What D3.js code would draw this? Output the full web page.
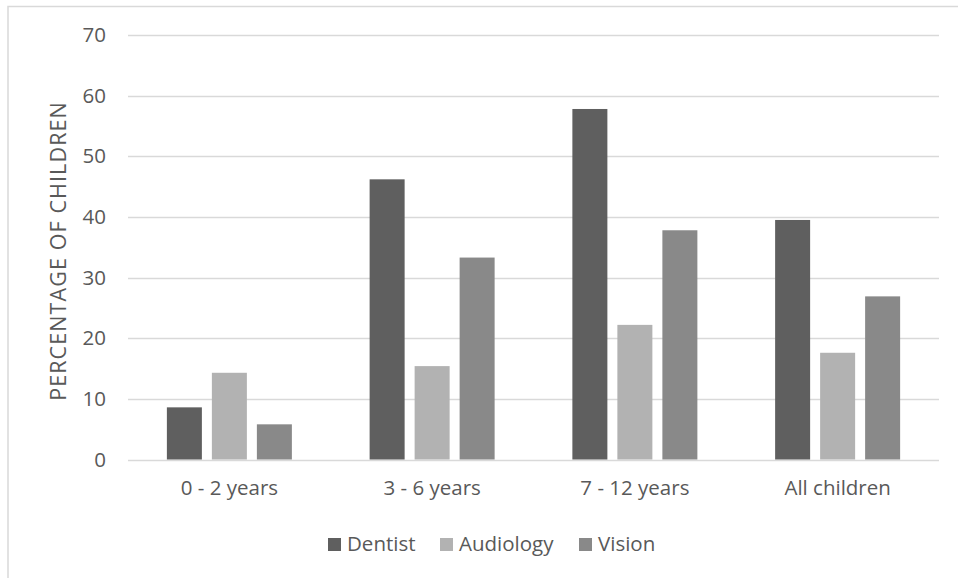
<!DOCTYPE html>
<html>
<head>
<meta charset="utf-8">
<script src="https://cdn.jsdelivr.net/npm/d3@7"></script>
<style>
  html, body { margin: 0; padding: 0; background: #fff; }
  svg { display: block; font-family: "Open Sans", "Liberation Sans", sans-serif; }
</style>
</head>
<body>
<svg id="chart" width="958" height="578"></svg>
<script>
// Share of children who used each service, by age group (%)
const categories = ["0 - 2 years", "3 - 6 years", "7 - 12 years", "All children"];
const seriesNames = ["Dentist", "Audiology", "Vision"];
const dentist = [8.6, 46.2, 57.8, 39.5];
const audiology = [14.3, 15.4, 22.2, 17.6];
const vision = [5.8, 33.3, 37.8, 26.9];
const yTicks = [0, 10, 20, 30, 40, 50, 60, 70];
const colors = ["#5f5f5f", "#b2b2b2", "#898989"];

const seriesValues = [dentist, audiology, vision];
const rows = categories.map((c, i) => ({
  category: c,
  values: seriesNames.map((s, j) => ({ series: s, value: seriesValues[j][i] }))
}));

const svg = d3.select("#chart");
const textColor = "#595959";
const gridColor = "#d9d9d9";
const fontSize = "20.5px";

// outer chart frame
svg.append("rect")
  .attr("x", 8).attr("y", 6.5)
  .attr("width", 1200).attr("height", 1200)
  .attr("fill", "none")
  .attr("stroke", gridColor)
  .attr("stroke-width", 1.5);

const plot = { left: 128, right: 939, top: 35, bottom: 459.5 };

const x = d3.scaleBand()
  .domain(categories)
  .range([plot.left, plot.right]);

const barW = 35, barGap = 10;
const xInner = d3.scaleBand()
  .domain(seriesNames)
  .range([0, barW * 3 + barGap * 2])
  .paddingInner(barGap / (barW + barGap));

const y = d3.scaleLinear()
  .domain([0, 70])
  .range([plot.bottom, plot.top]);

// horizontal gridlines
svg.append("g")
  .selectAll("line")
  .data(yTicks)
  .join("line")
  .attr("x1", plot.left).attr("x2", plot.right)
  .attr("y1", d => Math.round(y(d)) + 0.5)
  .attr("y2", d => Math.round(y(d)) + 0.5)
  .attr("stroke", gridColor)
  .attr("stroke-width", 1.5);

// y-axis labels
const yAxis = svg.append("g")
  .attr("transform", `translate(${plot.left - 22},0)`)
  .call(d3.axisLeft(y).tickValues(yTicks).tickSize(0).tickPadding(0).tickFormat(d3.format("d")));
yAxis.select(".domain").remove();
yAxis.selectAll("text")
  .attr("fill", textColor)
  .style("font-size", fontSize)
  .style("font-family", "'Open Sans', sans-serif");

// x-axis labels
const xAxis = svg.append("g")
  .attr("transform", `translate(0,${plot.bottom})`)
  .call(d3.axisBottom(x).tickSize(0).tickPadding(21));
xAxis.select(".domain").remove();
xAxis.selectAll("text")
  .attr("fill", textColor)
  .style("font-size", fontSize)
  .style("font-family", "'Open Sans', sans-serif");

// bars
const groups = svg.append("g")
  .selectAll("g")
  .data(rows)
  .join("g")
  .attr("transform", d => `translate(${x(d.category) + (x.bandwidth() - xInner.range()[1]) / 2},0)`);

groups.selectAll("rect")
  .data(d => d.values)
  .join("rect")
  .attr("x", d => xInner(d.series))
  .attr("width", xInner.bandwidth())
  .attr("y", d => y(d.value))
  .attr("height", d => y(0) - y(d.value))
  .attr("fill", (d, i) => colors[i]);

// y-axis title
svg.append("text")
  .attr("transform", `translate(66,251) rotate(-90)`)
  .attr("text-anchor", "middle")
  .attr("fill", textColor)
  .style("font-size", "21.5px")
  .style("letter-spacing", "1.1px")
  .text("PERCENTAGE OF CHILDREN");

// legend
const legendItems = [
  { name: seriesNames[0], color: colors[0], x: 328 },
  { name: seriesNames[1], color: colors[1], x: 440 },
  { name: seriesNames[2], color: colors[2], x: 579 }
];
const legend = svg.append("g");
const li = legend.selectAll("g")
  .data(legendItems)
  .join("g")
  .attr("transform", d => `translate(${d.x},0)`);
li.append("rect")
  .attr("x", 0).attr("y", 538)
  .attr("width", 13).attr("height", 13)
  .attr("fill", d => d.color);
li.append("text")
  .attr("x", 19).attr("y", 551)
  .attr("fill", textColor)
  .style("font-size", fontSize)
  .text(d => d.name);
</script>
</body>
</html>
